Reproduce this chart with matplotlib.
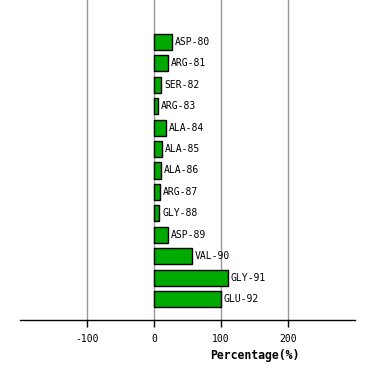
import matplotlib
matplotlib.use("Agg")
import matplotlib.pyplot as plt

plt.rcParams["axes.unicode_minus"] = False

# residue labels and percentages
residues = ["ASP-80", "ARG-81", "SER-82", "ARG-83", "ALA-84", "ALA-85", "ALA-86",
            "ARG-87", "GLY-88", "ASP-89", "VAL-90", "GLY-91", "GLU-92"]
percent = [26.5, 21.5, 11, 6.5, 17.5, 12.5, 11, 9.5, 8, 21.5, 56.5, 110.5, 100]
ticks = [-100, 0, 100, 200]

fig = plt.figure(figsize=(3.74, 3.80), dpi=100)
ax = fig.add_axes([20 / 374, 60 / 380, 335 / 374, 320 / 380])

pos = list(range(len(residues)))
ax.barh(pos, percent, height=0.75, color="#00aa00", edgecolor="black", linewidth=1, zorder=3)

for p, v, name in zip(pos, percent, residues):
    ax.text(v + 4, p, name, va="center", ha="left", fontsize=7,
            family="DejaVu Sans Mono", zorder=4)

ax.set_xlim(-200, 300)
ax.set_ylim(12.98, -1.96)
ax.set_xticks(ticks)
ax.set_xticklabels([str(t) for t in ticks], fontsize=7, family="DejaVu Sans Mono")
ax.set_yticks([])
ax.grid(axis="x", color="#999999", linewidth=1, zorder=0)

for s in ["left", "right", "top"]:
    ax.spines[s].set_visible(False)
ax.spines["bottom"].set_linewidth(1)
ax.tick_params(axis="x", length=5, width=1, pad=5)

ax.set_xlabel("Percentage(%)", fontsize=8.3, fontweight="bold", family="DejaVu Sans Mono")
ax.xaxis.set_label_coords(0.70, -0.09)

fig.savefig("out.png", dpi=100)
